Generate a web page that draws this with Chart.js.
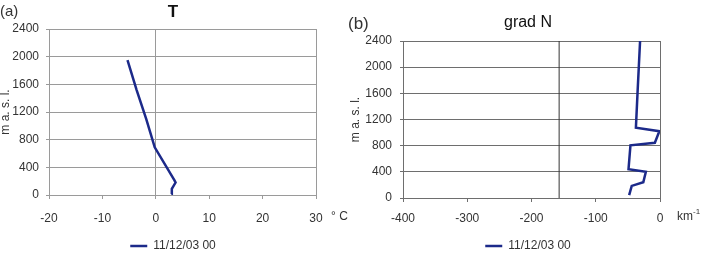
<!DOCTYPE html>
<html>
<head>
<meta charset="utf-8">
<script src="https://cdn.jsdelivr.net/npm/chart.js@4.4.1/dist/chart.umd.min.js"></script>
<style>
  body { margin: 0; background: #fff; width: 703px; height: 255px; overflow: hidden; position: relative; }
  canvas { position: absolute; top: 0; }
  #chartT { left: 0; }
  #chartN { left: 340px; }
</style>
</head>
<body>
<canvas id="chartT" width="352" height="255"></canvas>
<canvas id="chartN" width="363" height="255"></canvas>
<script>
const seriesLabel = '11/12/03 00';

// (a) temperatura, grados C, contra altura (m s.n.m.)
const tempC   = [2.9, 3.0, 3.7, 3.5, -0.2, -1.8, -3.6, -5.3];
const tempAlt = [15, 90, 180, 210, 690, 1100, 1520, 1950];

// (b) gradiente de refractividad, km-1
const gradN   = [-48, -44, -26, -22, -49, -46, -8, -1, -37.5, -35, -33, -31];
const gradAlt = [45, 185, 240, 400, 440, 805, 845, 1020, 1075, 1600, 2000, 2400];
const gradCrossX = -157;   // linea vertical del eje en (b)

// ticks
const altTicks  = [0, 400, 800, 1200, 1600, 2000, 2400];
const tempTicks = [-20, -10, 0, 10, 20, 30];
const gradTicks = [-400, -300, -200, -100, 0];

const font = 'Liberation Sans, Arial, sans-serif';
const lineColor = '#1c2a8a';
const textColor = '#333';
Chart.defaults.font.family = font;

// textos sueltos: (a), (b), unidades; y corrimiento de titulo y leyenda
const extraText = {
  id: 'extraText',
  afterLayout(chart, args, opts) {
    const dx = opts.shift || 0;
    [chart.titleBlock, chart.legend].forEach(b => {
      if (b) { b.left += dx; b.right += dx; }
    });
  },
  afterDraw(chart, args, opts) {
    const ctx = chart.ctx;
    const area = chart.chartArea;
    ctx.save();
    ctx.fillStyle = textColor;
    ctx.textBaseline = 'middle';
    (opts.items || []).forEach(t => {
      ctx.font = t.size + 'px ' + font;
      const x = t.fromRight ? area.right + t.x : t.x;
      const y = t.fromBottom ? area.bottom + t.y : t.y;
      ctx.fillText(t.text, x, y);
    });
    ctx.restore();
  }
};

function toPoints(xs, ys) {
  return xs.map((v, i) => ({ x: v, y: ys[i] }));
}

function setTicks(values) {
  return scale => { scale.ticks = values.map(v => ({ value: v })); };
}

// sin separador de miles
const plain = value => String(value);

function profileChart(id, s) {
  return new Chart(document.getElementById(id), {
    type: 'scatter',
    data: {
      datasets: [
        {
          label: seriesLabel,
          data: s.points,
          showLine: true,
          borderColor: lineColor,
          borderWidth: 2.5,
          pointRadius: 0,
          pointBorderColor: lineColor,
          pointBorderWidth: 2.5
        }
      ].concat(s.extra || [])
    },
    options: {
      responsive: false,
      animation: false,
      layout: { padding: s.padding },
      plugins: {
        title: {
          display: true,
          text: s.title,
          color: '#111',
          font: s.titleFont,
          padding: s.titlePadding
        },
        legend: {
          position: 'bottom',
          labels: {
            usePointStyle: true,
            pointStyle: 'line',
            pointStyleWidth: 17,
            padding: 4,
            color: textColor,
            font: { size: 12 },
            filter: item => item.datasetIndex === 0
          }
        },
        tooltip: { enabled: false },
        extraText: { items: s.texts, shift: s.shift }
      },
      scales: {
        x: {
          type: 'linear',
          min: s.xTicks[0],
          max: s.xTicks[s.xTicks.length - 1],
          afterBuildTicks: setTicks(s.xTicks),
          afterFit: scale => { scale.height = s.xHeight; },
          ticks: { padding: s.xPad, color: textColor, font: { size: 12 }, callback: plain },
          grid: {
            color: c => (c.tick && s.xLines.includes(c.tick.value)) ? s.grid : 'transparent',
            tickColor: s.grid,
            tickLength: 4
          },
          border: { color: s.grid }
        },
        y: {
          min: 0,
          max: 2400,
          afterBuildTicks: setTicks(altTicks),
          afterFit: scale => { scale.width = s.yWidth; },
          title: {
            display: true,
            text: 'm a. s. l.',
            color: textColor,
            font: { size: 12 },
            padding: { top: -2, bottom: 0 }
          },
          ticks: { padding: s.yPad, color: textColor, font: { size: 12 }, callback: plain },
          grid: { color: s.grid, tickLength: 3 },
          border: { color: s.grid }
        }
      }
    },
    plugins: [extraText]
  });
}

profileChart('chartT', {
  points: toPoints(tempC, tempAlt),
  title: 'T',
  titleFont: { size: 17, weight: 'bold' },
  titlePadding: { top: 2, bottom: 6.6 },
  padding: { left: 0, right: 36, top: 0, bottom: -7 },
  shift: 15,
  xTicks: tempTicks,
  xLines: [0, 30],
  xHeight: 41,
  xPad: 12,
  yWidth: 49,
  yPad: 7,
  grid: '#9a9a9a',
  texts: [
    { text: '(a)', x: 0, y: 12, size: 15 },
    { text: '° C', x: 15, y: 22, size: 12, fromRight: true, fromBottom: true }
  ]
});

profileChart('chartN', {
  points: toPoints(gradN, gradAlt),
  extra: [{
    label: 'eje',
    data: toPoints([gradCrossX, gradCrossX], [0, 2400]),
    showLine: true,
    borderColor: '#333',
    borderWidth: 1,
    pointRadius: 0
  }],
  title: 'grad N',
  titleFont: { size: 16, weight: 'normal' },
  titlePadding: { top: 13.4, bottom: 8.4 },
  padding: { left: 10, right: 43, top: 0, bottom: -7 },
  shift: 23,
  xTicks: gradTicks,
  xLines: [0],
  xHeight: 38,
  xPad: 9,
  yWidth: 53,
  yPad: 8,
  grid: '#6e6e6e',
  texts: [
    { text: '(b)', x: 8, y: 24, size: 17 },
    { text: 'km', x: 17, y: 19, size: 12, fromRight: true, fromBottom: true },
    { text: '-1', x: 33, y: 14, size: 8, fromRight: true, fromBottom: true }
  ]
});
</script>
</body>
</html>
